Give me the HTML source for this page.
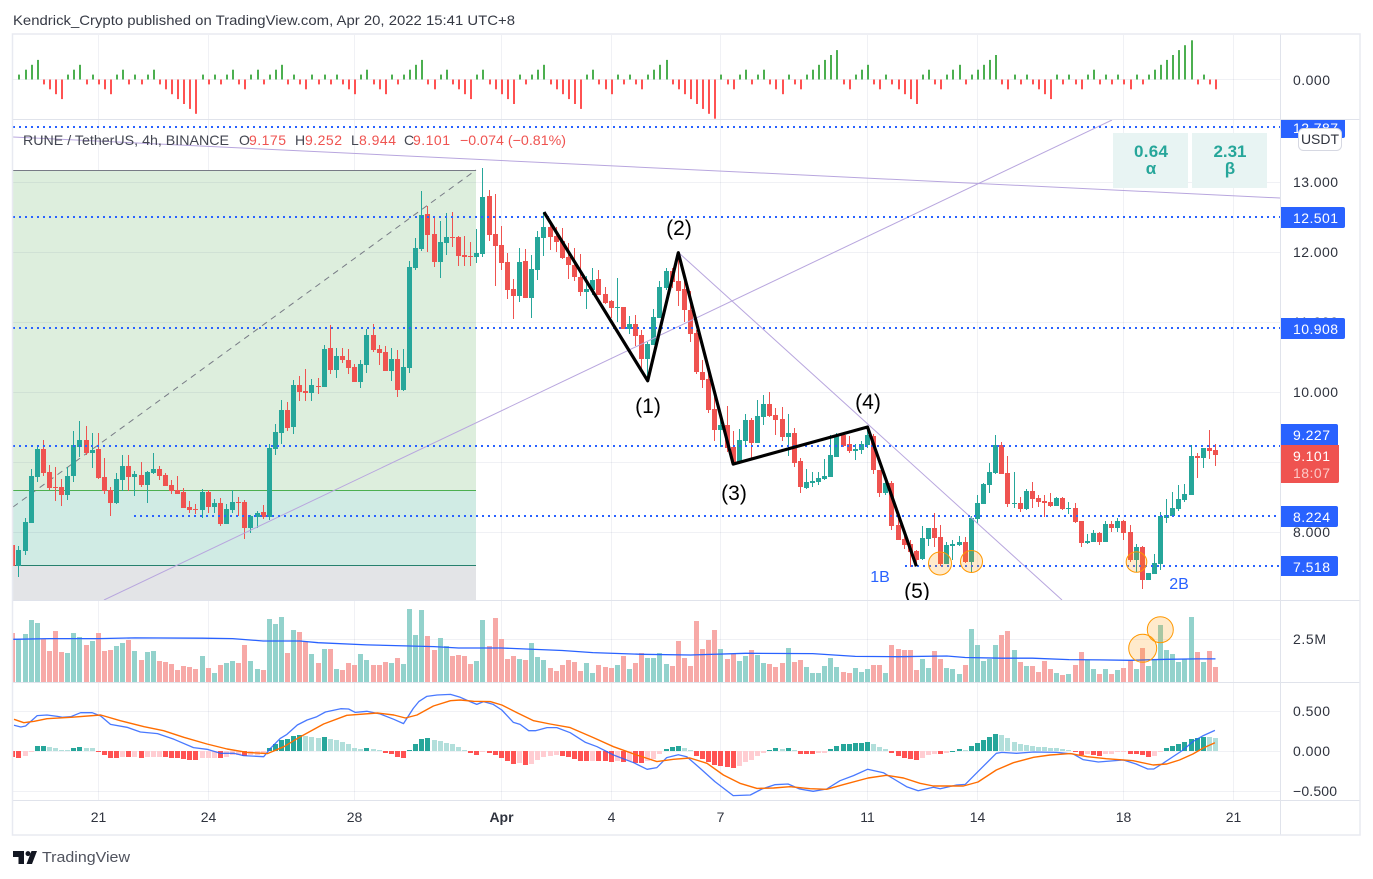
<!DOCTYPE html>
<html lang="en">
<head>
<meta charset="utf-8">
<title>RUNE / TetherUS chart</title>
<style>
html,body{margin:0;padding:0;background:#fff;width:1373px;height:879px;overflow:hidden}
svg{display:block;font-family:"Liberation Sans",Arial,sans-serif}
</style>
</head>
<body>
<svg id="chart" xmlns="http://www.w3.org/2000/svg" width="1373" height="879" viewBox="0 0 1373 879">
  <defs>
    <clipPath id="clip-top"><rect x="13" y="35" width="1267" height="84"/></clipPath>
    <clipPath id="clip-main"><rect x="13" y="120" width="1267" height="480"/></clipPath>
    <clipPath id="clip-vol"><rect x="13" y="601" width="1267" height="81"/></clipPath>
    <clipPath id="clip-macd"><rect x="13" y="683" width="1267" height="117"/></clipPath>
    <clipPath id="clip-tag"><rect x="1280" y="120" width="80" height="40"/></clipPath>
  </defs>

  <text x="13" y="25" font-size="14" fill="#363a45" textLength="502" lengthAdjust="spacingAndGlyphs">Kendrick_Crypto published on TradingView.com, Apr 20, 2022 15:41 UTC+8</text>

  <g id="vgrid"></g>

  <g>
    <rect x="13" y="170" width="463" height="320" fill="#ddeedd"/>
    <rect x="13" y="490" width="463" height="75" fill="#d0ebe4"/>
    <rect x="13" y="565" width="463" height="35" fill="#e3e4e7"/>
  </g>

  <g id="hgrid"></g>

  <g>
    <line x1="13" y1="170.5" x2="476" y2="170.5" stroke="#787b86" stroke-width="1"/>
    <line x1="13" y1="490.5" x2="476" y2="490.5" stroke="#4caf50" stroke-width="1"/>
    <line x1="13" y1="565.5" x2="476" y2="565.5" stroke="#26806e" stroke-width="1"/>
    <line x1="13" y1="507" x2="476" y2="170" stroke="#787b86" stroke-width="1" stroke-dasharray="6 5"/>
  </g>

  <g id="streak-bars" clip-path="url(#clip-top)"></g>
  <g id="candles" clip-path="url(#clip-main)"></g>
  <g id="volume-bars" clip-path="url(#clip-vol)"></g>
  <g id="macd-bars" clip-path="url(#clip-macd)"></g>

  <g clip-path="url(#clip-main)">
    <line x1="13" y1="137" x2="1280" y2="198" stroke="#b8a6de" stroke-width="1"/>
    <line x1="104" y1="600" x2="1112" y2="120" stroke="#b8a6de" stroke-width="1"/>
    <line x1="679" y1="253" x2="1062" y2="600" stroke="#b8a6de" stroke-width="1"/>
    <line x1="13" y1="127" x2="1280" y2="127" stroke="#2962ff" stroke-width="2" stroke-dasharray="2 4"/>
    <line x1="13" y1="217" x2="1280" y2="217" stroke="#2962ff" stroke-width="2" stroke-dasharray="2 4"/>
    <line x1="13" y1="328" x2="1280" y2="328" stroke="#2962ff" stroke-width="2" stroke-dasharray="2 4"/>
    <line x1="13" y1="446" x2="1280" y2="446" stroke="#2962ff" stroke-width="2" stroke-dasharray="2 4"/>
    <line x1="134" y1="516" x2="1280" y2="516" stroke="#2962ff" stroke-width="2" stroke-dasharray="2 4"/>
    <line x1="905" y1="566" x2="1280" y2="566" stroke="#2962ff" stroke-width="2" stroke-dasharray="2 4"/>
    <polyline id="wave" fill="none" stroke="#000" stroke-width="3.2" stroke-linejoin="round"/>
    <circle cx="940" cy="563.5" r="11.5" fill="rgba(255,152,0,.2)" stroke="#ff9800"/>
    <circle cx="971.5" cy="561.5" r="11" fill="rgba(255,152,0,.2)" stroke="#ff9800"/>
    <circle cx="1136.5" cy="562" r="10.3" fill="rgba(255,152,0,.2)" stroke="#ff9800"/>
    <text x="648" y="413" font-size="21" text-anchor="middle" fill="#000">(1)</text>
    <text x="679" y="235" font-size="21" text-anchor="middle" fill="#000">(2)</text>
    <text x="734" y="500" font-size="21" text-anchor="middle" fill="#000">(3)</text>
    <text x="868" y="409" font-size="21" text-anchor="middle" fill="#000">(4)</text>
    <text x="917" y="598" font-size="21" text-anchor="middle" fill="#000">(5)</text>
    <text x="880" y="582" font-size="16" text-anchor="middle" fill="#2962ff">1B</text>
    <text x="1179" y="589" font-size="16" text-anchor="middle" fill="#2962ff">2B</text>
    <rect x="1113" y="133" width="75" height="55" fill="#e8f4f3"/>
    <rect x="1192" y="133" width="75" height="55" fill="#e8f4f3"/>
    <text x="1151" y="157" font-size="17" text-anchor="middle" fill="#26a69a" font-weight="bold" textLength="34">0.64</text>
    <text x="1151" y="174" font-size="17" text-anchor="middle" fill="#26a69a" font-weight="bold">α</text>
    <text x="1230" y="157" font-size="17" text-anchor="middle" fill="#26a69a" font-weight="bold" textLength="33">2.31</text>
    <text x="1230" y="174" font-size="17" text-anchor="middle" fill="#26a69a" font-weight="bold">β</text>
  </g>

  <polyline id="vol-ma" fill="none" stroke="#2962ff" stroke-width="1.3" clip-path="url(#clip-vol)"/>
  <circle cx="1142.7" cy="648.3" r="14" fill="rgba(255,152,0,.2)" stroke="#ff9800"/>
  <circle cx="1160.3" cy="629.7" r="13" fill="rgba(255,152,0,.2)" stroke="#ff9800"/>
  <polyline id="macd-line" fill="none" stroke="#2962ff" stroke-width="1.3" stroke-linejoin="round" opacity=".85" clip-path="url(#clip-macd)"/>
  <polyline id="signal-line" fill="none" stroke="#ff6d00" stroke-width="1.4" stroke-linejoin="round" clip-path="url(#clip-macd)"/>

  <g font-size="14">
    <text x="23" y="145" fill="#434651" textLength="206" lengthAdjust="spacingAndGlyphs">RUNE / TetherUS, 4h, BINANCE</text>
    <text x="239" y="145" fill="#434651">O</text>
    <text x="249" y="145" fill="#ef5350" textLength="37">9.175</text>
    <text x="295" y="145" fill="#434651">H</text>
    <text x="305" y="145" fill="#ef5350" textLength="37">9.252</text>
    <text x="351" y="145" fill="#434651">L</text>
    <text x="359" y="145" fill="#ef5350" textLength="37">8.944</text>
    <text x="404" y="145" fill="#434651">C</text>
    <text x="413" y="145" fill="#ef5350" textLength="37">9.101</text>
    <text x="460" y="145" fill="#ef5350" textLength="106" lengthAdjust="spacingAndGlyphs">−0.074 (−0.81%)</text>
  </g>

  <g id="price-ticks" font-size="14" fill="#2f333e"></g>
  <text x="1293" y="85" font-size="14" fill="#2f333e" textLength="37">0.000</text>
  <text x="1293" y="644" font-size="14" fill="#2f333e" textLength="33">2.5M</text>
  <text x="1293" y="716" font-size="14" fill="#2f333e" textLength="37">0.500</text>
  <text x="1293" y="756" font-size="14" fill="#2f333e" textLength="37">0.000</text>
  <text x="1293" y="796" font-size="14" fill="#2f333e" textLength="44">−0.500</text>

  <g font-size="14" fill="#fff">
    <g clip-path="url(#clip-tag)">
      <path d="M1280 118h63a2 2 0 0 1 2 2v16a2 2 0 0 1-2 2h-63z" fill="#2962ff"/>
      <text x="1293" y="133" textLength="45">12.787</text>
    </g>
    <path d="M1280 207h63a2 2 0 0 1 2 2v17a2 2 0 0 1-2 2h-63z" fill="#2962ff"/>
    <text x="1293" y="223" textLength="45">12.501</text>
    <path d="M1280 318h63a2 2 0 0 1 2 2v17a2 2 0 0 1-2 2h-63z" fill="#2962ff"/>
    <text x="1293" y="334" textLength="45">10.908</text>
    <path d="M1280 424h56a2 2 0 0 1 2 2v19h-58z" fill="#2962ff"/>
    <text x="1293" y="440" textLength="37">9.227</text>
    <path d="M1280 445h59v36a2 2 0 0 1-2 2h-57z" fill="#ef5350"/>
    <text x="1293" y="461" textLength="37">9.101</text>
    <text x="1293" y="478" textLength="37" fill="#fcc8c6">18:07</text>
    <path d="M1280 506h56a2 2 0 0 1 2 2v17a2 2 0 0 1-2 2h-56z" fill="#2962ff"/>
    <text x="1293" y="522" textLength="37">8.224</text>
    <path d="M1280 556h56a2 2 0 0 1 2 2v16a2 2 0 0 1-2 2h-56z" fill="#2962ff"/>
    <text x="1293" y="572" textLength="37">7.518</text>
  </g>
  <rect x="1298.5" y="128.5" width="43" height="22" rx="5" fill="#fff" stroke="#d6d8e2"/>
  <text x="1320" y="144" font-size="14" text-anchor="middle" fill="#2f333e">USDT</text>

  <g stroke="#e0e3eb" stroke-width="1">
    <line x1="13" y1="119.5" x2="1360" y2="119.5"/>
    <line x1="13" y1="600.5" x2="1360" y2="600.5"/>
    <line x1="13" y1="682.5" x2="1360" y2="682.5"/>
    <line x1="13" y1="800.5" x2="1360" y2="800.5"/>
    <line x1="1280.5" y1="34" x2="1280.5" y2="835"/>
  </g>
  <rect x="12.5" y="34" width="1347.5" height="801" fill="none" stroke="#e8eaf1" stroke-width="1.5"/>
  <g id="time-ticks" font-size="14" fill="#2f333e" text-anchor="middle"></g>

  <g>
    <path d="M13 851h11v13h-5.5v-7H13zM31.5 851H37l-5 13h-5.5z" fill="#131722"/>
    <circle cx="28" cy="853.6" r="2.5" fill="#131722"/>
    <text x="42" y="862" font-size="15" fill="#50535e" textLength="88" lengthAdjust="spacingAndGlyphs">TradingView</text>
  </g>
</svg>
<script>
// Candles, first entry is the bar just left of the visible range
const firstBar = -1;
const openPrices = [7.81,
7.52,7.73,8.13,8.79,9.19,8.86,8.64,8.64,8.53,8.8,
9.21,9.31,9.13,9.19,8.79,8.6,8.41,8.74,8.94,8.79,
8.81,8.67,8.84,8.9,8.81,8.67,8.6,8.57,8.36,8.33,
8.31,8.57,8.36,8.41,8.11,8.31,8.43,8.43,8.06,8.21,
8.29,8.21,9.19,9.41,9.74,9.5,10.1,10.01,9.99,10.09,
10.07,10.63,10.31,10.51,10.46,10.36,10.14,10.39,10.81,10.61,
10.57,10.3,10.47,10.03,10.34,11.77,12.04,12.54,12.26,11.86,
12.13,12.21,12.21,11.96,11.94,11.93,11.97,12.8,12.26,12.1,
11.86,11.47,11.37,11.87,11.34,11.74,12.2,12.36,12.23,12.16,
11.93,11.81,11.64,11.43,11.46,11.61,11.4,11.3,11.2,11.21,
10.9,10.97,10.81,10.47,10.67,11.06,11.49,11.73,11.59,11.47,
11.17,10.84,10.29,10.19,9.76,9.46,9.53,9.21,8.99,9.3,
9.6,9.27,9.64,9.83,9.67,9.61,9.36,9.41,9.01,8.63,
8.7,8.71,8.76,8.79,9.07,9.39,9.26,9.16,9.17,9.24,
9.37,8.89,8.56,8.7,8.1,7.9,7.83,7.73,7.61,7.9,
8.06,7.93,7.54,7.8,7.81,7.86,7.57,8.19,8.4,8.67,
8.84,9.24,8.84,8.4,8.41,8.33,8.59,8.49,8.44,8.43,
8.37,8.49,8.33,8.34,8.16,7.84,7.86,7.99,7.86,8.11,
8.06,8.16,8.0,7.6,7.79,7.31,7.4,7.54,8.2,8.23,
8.33,8.46,8.53,9.09,9.06,9.2,9.175];
const highPrices = [7.81,
7.8,8.2,8.9,9.24,9.31,8.96,8.93,8.76,8.93,9.44,
9.59,9.51,9.41,9.41,9.06,8.64,8.84,9.1,9.1,8.87,
9.0,8.87,9.13,8.94,8.84,8.74,8.8,8.63,8.44,8.4,
8.61,8.6,8.47,8.49,8.4,8.6,8.5,8.46,8.24,8.3,
8.39,9.26,9.54,9.89,9.86,10.17,10.23,10.33,10.19,10.2,
10.67,10.96,10.63,10.63,10.61,10.4,10.46,10.9,10.97,10.67,
10.66,10.63,10.6,10.61,11.87,12.2,12.87,12.66,12.49,12.44,
12.56,12.57,12.23,12.23,12.14,12.33,13.2,12.89,12.83,12.37,
11.99,11.61,12.06,12.04,11.96,12.3,12.57,12.44,12.36,12.34,
12.13,12.06,11.97,11.66,11.77,11.74,11.5,11.31,11.63,11.21,
11.09,11.1,10.89,10.71,11.19,11.59,11.77,11.77,11.96,11.6,
11.44,10.89,10.46,10.31,9.97,9.71,9.8,9.44,9.47,9.69,
9.63,9.89,9.96,10.0,9.77,9.79,9.69,9.49,9.06,8.9,
8.86,8.86,9.04,9.39,9.41,9.41,9.37,9.26,9.3,9.51,
9.4,8.89,8.74,8.73,8.23,8.0,7.89,7.74,8.09,8.06,
8.27,8.1,7.86,7.89,7.94,7.93,8.23,8.53,8.7,8.99,
9.39,9.29,9.09,8.86,8.5,8.61,8.71,8.53,8.53,8.56,
8.5,8.5,8.43,8.41,8.16,7.97,8.03,8.0,8.16,8.16,
8.2,8.17,8.1,7.83,7.8,7.41,7.69,8.29,8.47,8.57,
8.67,8.69,9.24,9.13,9.2,9.46,9.252];
const lowPrices = [7.51,
7.36,7.67,8.13,8.71,8.8,8.61,8.44,8.37,8.46,8.71,
9.07,9.1,8.91,8.76,8.54,8.23,8.4,8.59,8.59,8.51,
8.64,8.41,8.83,8.74,8.66,8.54,8.54,8.34,8.27,8.26,
8.2,8.27,8.27,8.09,8.11,8.27,8.23,7.9,7.99,8.06,
8.19,8.17,9.1,9.26,9.44,9.4,9.87,9.87,9.87,9.97,
10.07,10.26,10.2,10.41,10.26,10.14,10.06,10.27,10.57,10.39,
10.3,10.16,9.93,10.01,10.27,11.74,12.01,12.0,11.79,11.63,
11.96,12.07,11.8,11.8,11.8,11.84,11.93,12.16,11.51,11.74,
11.33,11.04,11.29,11.34,11.06,11.6,11.94,12.03,12.0,11.9,
11.61,11.59,11.37,11.19,11.39,11.39,11.26,11.06,11.0,10.89,
10.83,10.66,10.33,10.17,10.67,11.06,11.46,11.49,11.23,11.0,
10.71,10.26,10.06,9.7,9.3,9.21,9.14,8.96,8.97,9.23,
9.04,9.27,9.53,9.64,9.39,9.31,9.09,8.94,8.56,8.61,
8.64,8.67,8.74,8.79,9.07,9.21,9.13,9.03,9.11,9.2,
8.83,8.5,8.53,8.03,7.89,7.76,7.51,7.51,7.61,7.81,
7.79,7.51,7.54,7.6,7.8,7.56,7.41,8.11,8.4,8.56,
8.84,8.83,8.36,8.34,8.29,8.31,8.34,8.36,8.21,8.36,
8.37,8.31,8.26,8.13,7.79,7.83,7.86,7.81,7.86,8.01,
8.0,7.89,7.57,7.43,7.19,7.31,7.4,7.46,8.13,8.21,
8.3,8.44,8.53,8.77,8.91,9.04,8.944];
const closePrices = [7.51,
7.74,8.14,8.8,9.19,8.84,8.63,8.63,8.53,8.8,9.24,
9.31,9.13,9.17,8.77,8.59,8.41,8.76,8.94,8.79,8.83,
8.67,8.86,8.9,8.8,8.66,8.59,8.54,8.34,8.31,8.31,
8.57,8.36,8.41,8.11,8.33,8.43,8.41,8.06,8.23,8.27,
8.21,9.2,9.43,9.74,9.49,10.1,10.0,9.99,10.1,10.07,
10.61,10.31,10.51,10.46,10.34,10.14,10.4,10.81,10.6,10.56,
10.3,10.47,10.03,10.36,11.79,12.06,12.53,12.24,11.86,12.14,
12.21,12.2,11.94,11.93,11.93,11.99,12.79,12.24,12.09,11.84,
11.46,11.37,11.86,11.34,11.76,12.21,12.36,12.21,12.14,11.91,
11.81,11.64,11.43,11.47,11.6,11.39,11.27,11.2,11.21,10.9,
10.97,10.8,10.47,10.69,11.07,11.5,11.73,11.57,11.44,11.17,
10.83,10.29,10.17,9.74,9.46,9.53,9.2,8.99,9.31,9.6,
9.27,9.66,9.83,9.66,9.6,9.36,9.41,8.99,8.64,8.71,
8.73,8.77,8.8,9.1,9.39,9.23,9.16,9.19,9.26,9.39,
8.89,8.56,8.7,8.09,7.89,7.81,7.71,7.6,7.91,8.06,
7.91,7.54,7.81,7.83,7.86,7.57,8.2,8.41,8.69,8.86,
9.24,8.83,8.4,8.41,8.33,8.59,8.47,8.43,8.41,8.37,
8.49,8.33,8.34,8.14,7.84,7.87,7.99,7.86,8.11,8.06,
8.16,7.99,7.6,7.79,7.31,7.41,7.56,8.23,8.24,8.34,
8.47,8.54,9.09,9.06,9.2,9.16,9.101];
// Volume in millions, one entry per candle
const volumes = [2.87,
2.5,2.81,3.63,3.46,2.52,1.82,2.99,1.76,1.7,2.87,
2.64,2.17,2.4,2.87,1.82,1.88,2.11,2.29,2.46,1.82,
1.29,1.76,1.82,1.23,1.17,1.05,.7,.94,.88,.76,
1.52,.82,.53,1.0,1.11,1.23,1.11,2.17,1.23,.76,
.7,3.69,3.4,3.81,1.7,3.05,2.93,2.34,1.64,1.11,
1.93,1.93,.76,.7,1.11,1.0,1.64,1.29,1.0,1.0,
1.17,1.11,1.41,1.05,4.28,2.75,4.22,2.7,1.88,2.58,
2.11,1.52,1.58,1.52,1.05,1.23,3.63,2.11,3.75,2.52,
1.35,1.52,1.35,1.29,2.29,1.46,1.29,.82,.64,1.0,
1.29,1.17,.64,1.11,.53,1.0,.88,.82,1.0,1.52,
.76,1.11,1.7,1.41,1.41,1.7,1.05,.94,2.4,1.41,
.94,3.57,1.93,2.46,3.05,1.93,1.35,1.64,1.23,1.52,
1.88,1.58,1.11,1.05,.88,1.11,1.99,1.17,1.29,.88,
.53,.53,.94,1.41,.88,.59,.53,.82,.59,.76,
1.0,1.0,.53,2.17,1.93,1.88,1.88,.7,1.35,.82,
1.82,1.35,.82,.76,.47,1.0,3.11,2.17,1.23,1.35,
2.17,2.75,2.99,1.88,1.17,.94,.94,.59,1.23,.76,
.53,.41,.47,1.0,1.76,1.29,.76,.47,.76,.47,
.7,.82,1.29,.76,1.99,.94,1.29,3.34,1.88,1.64,
1.17,1.35,3.81,1.76,1.17,1.82,.88];
// Volume moving average, sampled at these bars
const volMaBars = [-1,5,13,19,30,35,40,46,49,57,68,72,79,89,94,102,110,119,130,137,144,152,155,161,166,172,177,182,188,193,196];
const volMaValues = [2.5,2.54,2.54,2.58,2.56,2.54,2.4,2.4,2.3,2.17,2.07,1.99,1.99,1.84,1.72,1.62,1.58,1.68,1.66,1.5,1.48,1.52,1.43,1.39,1.39,1.31,1.29,1.27,1.33,1.35,1.35];
// MACD histogram, one entry per candle
const macdHist = [-.075,
-.087,-.062,-.012,.062,.063,.05,.037,.012,.012,.037,
.05,.037,.037,-.012,-.05,-.087,-.087,-.075,-.076,-.075,
-.087,-.075,-.074,-.073,-.075,-.087,-.087,-.1,-.112,-.112,
-.087,-.086,-.085,-.087,-.075,-.05,-.049,-.062,-.05,-.049,
-.037,.037,.087,.137,.15,.187,.2,.187,.175,.162,
.175,.15,.137,.112,.087,.037,.025,.037,.025,.012,
-.025,-.037,-.075,-.087,.012,.087,.15,.162,.137,.125,
.1,.087,.05,.012,-.025,-.05,-.012,-.025,-.05,-.087,
-.125,-.162,-.15,-.175,-.162,-.112,-.075,-.062,-.05,-.062,
-.075,-.1,-.125,-.125,-.124,-.125,-.125,-.137,-.125,-.137,
-.125,-.15,-.15,-.125,-.1,-.037,.025,.05,.062,.037,
.012,-.062,-.1,-.137,-.175,-.187,-.2,-.212,-.187,-.137,
-.112,-.062,-.025,.012,.037,.025,.037,.012,-.037,-.037,
-.037,-.025,-.024,.025,.062,.087,.088,.1,.101,.112,
.087,.05,.025,-.025,-.062,-.087,-.1,-.112,-.087,-.05,
-.037,-.037,-.025,.004,.025,.012,.062,.1,.137,.175,
.212,.2,.162,.112,.087,.075,.062,.05,.046,.037,
.033,.025,.012,-.012,-.05,-.037,-.05,-.062,-.037,-.036,
-.012,-.008,-.037,-.04,-.05,-.075,-.062,-.008,.037,.062,
.087,.112,.15,.162,.175,.171,.162];
// MACD line, sampled at these bars
const macdBars = [-.8,.3,1.1,1.9,3,4.6,6.3,7.1,8.5,10.1,12,13.4,15,17.7,19.9,22.7,25.4,28.6,30.8,33,35.2,36.8,40.1,41.2,42.8,43.9,45.6,47.2,48.8,50.2,52.7,54,55.1,57,59.2,61.4,63,64.6,65.5,66.8,68.5,70.7,72.3,73.9,75,76.1,77.7,79.1,81,82.1,83.5,84.6,86.5,88.1,90.3,92.8,94.7,97.4,100.7,102.9,104.5,106.1,108,109.4,111.6,114,117,119.8,121.7,123.8,126,127.9,130.1,132.3,134.5,136.7,139,141.6,143.3,145.4,147.3,149.8,150.9,153.6,155,157.1,160.1,161,163.4,166.2,170,172.7,174.3,176.8,180.9,183,184.9,185.9,187.4,190.7,192.3,194,195.9];
const macdValues = [.321,.3,.312,.367,.442,.45,.433,.421,.429,.479,.479,.437,.333,.296,.237,.217,.146,.042,.021,-.029,-.029,-.058,-.071,.033,.158,.208,.325,.387,.429,.487,.529,.525,.483,.496,.462,.396,.342,.533,.617,.683,.7,.708,.671,.617,.583,.617,.583,.512,.358,.333,.254,.254,.292,.292,.229,.108,.054,-.05,-.146,-.229,-.208,-.083,-.046,-.071,-.217,-.383,-.558,-.55,-.475,-.421,-.412,-.475,-.504,-.475,-.371,-.308,-.229,-.271,-.35,-.446,-.496,-.454,-.471,-.425,-.417,-.258,-.029,-.017,-.029,-.012,-.017,-.037,-.108,-.137,-.112,-.162,-.225,-.225,-.154,.012,.117,.192,.258];
// Signal line, sampled at these bars
const signalBars = [-.8,.8,2.5,4.6,8.5,13.4,16.6,20.5,23.7,27,30.8,34.1,37.4,40.7,43.4,46.1,49.9,53.7,58.7,61.4,63.3,65.2,67.9,70.7,72.3,74.5,77.2,79.1,81.6,84.3,87,90.3,94.1,97.4,101.2,104.5,107.2,109.9,112.7,115.4,118.1,120.9,123.6,126.3,129.6,132.3,135,139.1,142.1,144.9,147.6,149.8,154.7,157.1,160.1,162.9,166.2,168.9,172.2,175,178.1,182.5,185.8,188,190.1,192.3,194,195.9];
const signalValues = [.396,.354,.371,.404,.421,.45,.379,.304,.254,.171,.087,.025,-.017,-.033,.054,.179,.337,.446,.475,.45,.412,.45,.562,.629,.637,.621,.617,.575,.479,.379,.337,.292,.167,.054,-.05,-.133,-.104,-.087,-.154,-.3,-.404,-.467,-.462,-.446,-.471,-.479,-.421,-.337,-.304,-.337,-.404,-.438,-.438,-.387,-.237,-.146,-.079,-.05,-.033,-.071,-.096,-.121,-.175,-.162,-.112,-.037,.037,.104];
// Elliott wave anchors
const waveBars = [86,103,108,117,139,147];
const wavePrices = [12.57,10.16,11.99,8.97,9.5,7.51];
// Axis ticks
const priceTicks = [13,12,11,10,9,8];
const priceTickLabels = ['13.000','12.000','11.000','10.000','9.000','8.000'];
const macdTicks = [.5,0,-.5];
const volumeTicks = [2.5];
const streakTicks = [0];
const timeTickBars = [13,31,55,79,97,115,139,157,181,199];
const timeTickLabels = ['21','24','28','Apr','4','7','11','14','18','21'];

// Axis functions
function xBar(i){return 18.92+6.105*i;}
function snap(i){return Math.floor(xBar(i));}
function yPrice(p){return (1092-p*70);}
function yVolume(v){return 682-v*17.1;}
function yMacd(v){return 751-v*80;}
function yStreak(n){return 79.5-n*4.9;}

const NS='http://www.w3.org/2000/svg';
function mk(tag,parent,attrs){
  const el=document.createElementNS(NS,tag);
  for(const k in attrs){el.setAttribute(k,attrs[k]);}
  parent.appendChild(el);
  return el;
}
function pts(bars,vals,fy){return bars.map(function(b,i){return xBar(b).toFixed(1)+','+fy(vals[i]).toFixed(1);}).join(' ');}

// Vertical grid + time axis
const vgrid=document.getElementById('vgrid');
const timeGroup=document.getElementById('time-ticks');
timeTickBars.forEach(function(b,i){
  const l=mk('line',vgrid,{x1:snap(b)+.5,x2:snap(b)+.5,y1:35,y2:800,stroke:'rgba(42,60,110,.07)'});
  
  
  const t=mk('text',timeGroup,{x:snap(b)+.5,y:822});
  
  
  if(timeTickLabels[i]==='Apr'){t.setAttribute('font-weight','bold');}
  t.textContent=timeTickLabels[i];
});

// Horizontal grid + price axis
const hgrid=document.getElementById('hgrid');
const priceGroup=document.getElementById('price-ticks');
function hline(y){
  const l=mk('line',hgrid,{x1:13,x2:1280,y1:Math.round(y)+.5,y2:Math.round(y)+.5,stroke:'rgba(42,60,110,.07)'});
  
  
}
priceTicks.forEach(function(p,i){
  hline(yPrice(p));
  const t=mk('text',priceGroup,{x:1293,y:yPrice(p)+5,textLength:priceTickLabels[i].length>5?45:37});
  
  
  t.textContent=priceTickLabels[i];
});
macdTicks.forEach(function(v){hline(yMacd(v)-.5);});
volumeTicks.forEach(function(v){hline(yVolume(v));});
streakTicks.forEach(function(v){hline(yStreak(v)-.5);});

// Candles, volume, histogram and streak bars
const candleGroup=document.getElementById('candles');
const volGroup=document.getElementById('volume-bars');
const histGroup=document.getElementById('macd-bars');
const streakGroup=document.getElementById('streak-bars');
let streak=0;
openPrices.forEach(function(o,k){
  const i=k+firstBar, c=closePrices[k], up=c>=o, x=snap(i);
  const col=up?'#26a69a':'#ef5350';

  const wick=mk('rect',candleGroup,{x:x,width:1,y:Math.round(yPrice(highPrices[k])),height:Math.max(1,Math.round(yPrice(lowPrices[k])-yPrice(highPrices[k]))),fill:col});
  
  
  const top=Math.round(yPrice(Math.max(o,c))), bot=Math.round(yPrice(Math.min(o,c)));
  const body=mk('rect',candleGroup,{x:x-2,width:5,y:top,height:Math.max(1,bot-top),fill:col});
  
  

  const vy=Math.round(yVolume(volumes[k]));
  const vb=mk('rect',volGroup,{x:x-2,width:5,y:vy,height:682-vy,fill:up?'#93d2cc':'#f7a9a7'});
  
  

  const h=macdHist[k], prev=k>0?macdHist[k-1]:h;
  const hcol=h>=0?(h>prev?'#26a69a':'#b2dfdb'):(h>prev?'#ffcdd2':'#ff5252');
  const hy=yMacd(h), y0=yMacd(0);
  const hb=mk('rect',histGroup,{x:x-2,width:5,y:Math.round(Math.min(hy,y0)),height:Math.max(1,Math.round(Math.abs(hy-y0))),fill:hcol});
  
  

  if(k>0){
    if(up){streak=streak>0?streak+1:1;}else{streak=streak<0?streak-1:-1;}
    const sy=yStreak(streak), s0=yStreak(0);
    const sb=mk('rect',streakGroup,{x:x,width:2,y:Math.min(sy,s0),height:Math.abs(sy-s0),fill:up?'#4caf50':'#ff5252'});
    
    
  }
});

document.getElementById('vol-ma').setAttribute('points',pts(volMaBars,volMaValues,yVolume));
document.getElementById('macd-line').setAttribute('points',pts(macdBars,macdValues,yMacd));
document.getElementById('signal-line').setAttribute('points',pts(signalBars,signalValues,yMacd));
document.getElementById('wave').setAttribute('points',pts(waveBars,wavePrices,yPrice));
</script>
</body>
</html>
